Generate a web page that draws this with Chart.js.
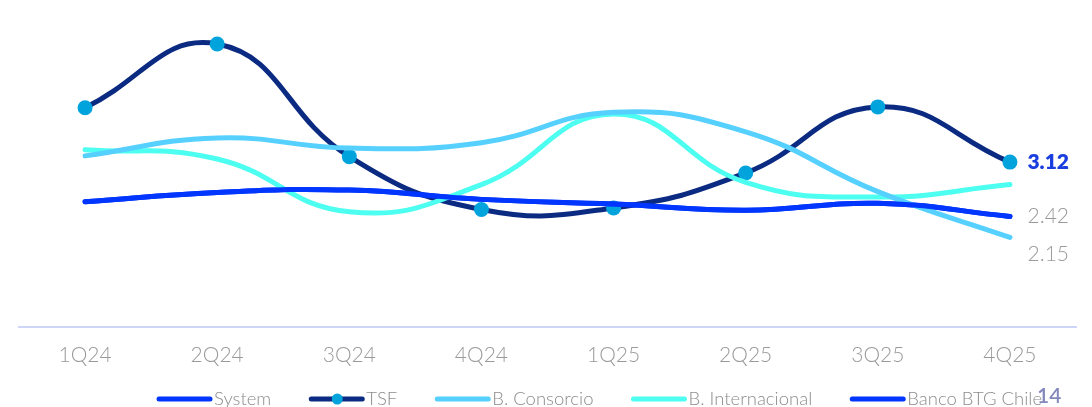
<!DOCTYPE html>
<html>
<head>
<meta charset="utf-8">
<script src="https://cdn.jsdelivr.net/npm/chart.js@4.4.1/dist/chart.umd.min.js"></script>
<style>
  html, body { margin: 0; padding: 0; background: #ffffff; }
  #wrap { width: 1092px; height: 407px; position: relative; }
</style>
</head>
<body>
<div id="wrap"><canvas id="grafico" width="1092" height="407"></canvas></div>
<script>
// ── DATOS ─────────────────────────────────────────────────
const trimestres = ["1Q24", "2Q24", "3Q24", "4Q24", "1Q25", "2Q25", "3Q25", "4Q25"];

// System y Banco BTG Chile van con las mismas cifras en el periodo
const systemVals        = [2.61, 2.73, 2.76, 2.64, 2.58, 2.50, 2.59, 2.42];
const tsfVals           = [3.82, 4.64, 3.19, 2.51, 2.53, 2.98, 3.83, 3.12];
const consorcioVals     = [3.20, 3.43, 3.30, 3.37, 3.76, 3.51, 2.74, 2.15];
const internacionalVals = [3.28, 3.16, 2.48, 2.83, 3.74, 2.86, 2.67, 2.83];
const btgVals           = [2.61, 2.73, 2.76, 2.64, 2.58, 2.50, 2.59, 2.42];

const FUENTE = "Lato, 'Open Sans', sans-serif";
const GRIS = "#9a9a9a";
const COL = {
  system: "#0036ff",
  tsf: "#0b2a82",
  tsfPunto: "#00a3dc",
  consorcio: "#55d0ff",
  internacional: "#4dfff0",
  btg: "#0036ff",
  eje: "#cdd6f6",
  pagina: "#8288bb"
};

// ── DATASETS ──────────────────────────────────────────────
function serie(label, data, color, extra) {
  return Object.assign({
    label: label,
    data: data,
    borderColor: color,
    backgroundColor: color,
    borderWidth: 5,
    tension: 0.45,
    fill: false,
    pointRadius: 0,
    pointHoverRadius: 0,
    borderCapStyle: "round"
  }, extra || {});
}

const datasets = [
  serie("System", systemVals, COL.system),
  serie("B. Consorcio", consorcioVals, COL.consorcio, { endLabel: { dy: 17, bold: false } }),
  serie("B. Internacional", internacionalVals, COL.internacional),
  serie("Banco BTG Chile", btgVals, COL.btg, { endLabel: { dy: 0, bold: false } }),
  serie("TSF", tsfVals, COL.tsf, {
    pointRadius: 7.5,
    pointBackgroundColor: COL.tsfPunto,
    pointBorderColor: COL.tsfPunto,
    pointBorderWidth: 0,
    endLabel: { dy: 0, bold: true }
  })
];

// orden de la leyenda
const ordenLeyenda = ["System", "TSF", "B. Consorcio", "B. Internacional", "Banco BTG Chile"];

// ── PLUGIN: etiquetas al final de la serie ────────────────
const etiquetasFinales = {
  id: "etiquetasFinales",
  afterDatasetsDraw(chart) {
    const ctx = chart.ctx;
    ctx.save();
    ctx.textAlign = "right";
    ctx.textBaseline = "middle";
    chart.data.datasets.forEach((ds, i) => {
      if (!ds.endLabel) return;
      const meta = chart.getDatasetMeta(i);
      const pt = meta.data[meta.data.length - 1];
      const v = ds.data[ds.data.length - 1];
      if (ds.endLabel.bold) {
        ctx.font = "800 21px " + FUENTE;
        ctx.fillStyle = "#1a3de0";
      } else {
        ctx.font = "300 21px " + FUENTE;
        ctx.fillStyle = GRIS;
      }
      ctx.fillText(v.toFixed(2), 1069, pt.y + ds.endLabel.dy);
    });
    ctx.restore();
  }
};

// ── PLUGIN: leyenda inferior + número de página ───────────
const leyenda = {
  id: "leyenda",
  afterDraw(chart) {
    const ctx = chart.ctx;
    ctx.save();
    ctx.font = "300 18.5px " + FUENTE;
    ctx.textBaseline = "middle";
    ctx.textAlign = "left";
    const y = 399;
    let x = 157;
    ordenLeyenda.forEach(nombre => {
      const ds = chart.data.datasets.find(d => d.label === nombre);
      ctx.strokeStyle = ds.borderColor;
      ctx.lineWidth = 5;
      ctx.lineCap = "round";
      ctx.beginPath();
      ctx.moveTo(x + 2, y);
      ctx.lineTo(x + 53, y);
      ctx.stroke();
      if (ds.pointRadius > 0) {
        ctx.fillStyle = ds.pointBackgroundColor;
        ctx.beginPath();
        ctx.arc(x + 28, y, 5.5, 0, Math.PI * 2);
        ctx.fill();
      }
      ctx.fillStyle = "#8c8c8c";
      ctx.fillText(nombre, x + 57, y);
      x += 57 + ctx.measureText(nombre).width + 38;
    });
    // número de página
    ctx.font = "600 21px " + FUENTE;
    ctx.fillStyle = COL.pagina;
    ctx.fillText("14", 1037, 396);
    ctx.restore();
  }
};

// ── GRÁFICO ───────────────────────────────────────────────
new Chart(document.getElementById("grafico"), {
  type: "line",
  data: { labels: trimestres, datasets: datasets },
  options: {
    responsive: false,
    animation: false,
    layout: { padding: { left: 19, right: 16, top: 16, bottom: 23 } },
    plugins: {
      legend: { display: false },
      tooltip: { enabled: false }
    },
    scales: {
      x: {
        offset: true,
        grid: { display: false, drawTicks: false },
        border: { display: true, color: COL.eje, width: 2 },
        ticks: {
          color: GRIS,
          padding: 16,
          font: { family: FUENTE, size: 21, weight: 300 }
        }
      },
      y: {
        display: false,
        min: 1,
        max: 5
      }
    }
  },
  plugins: [etiquetasFinales, leyenda]
});
</script>
</body>
</html>
